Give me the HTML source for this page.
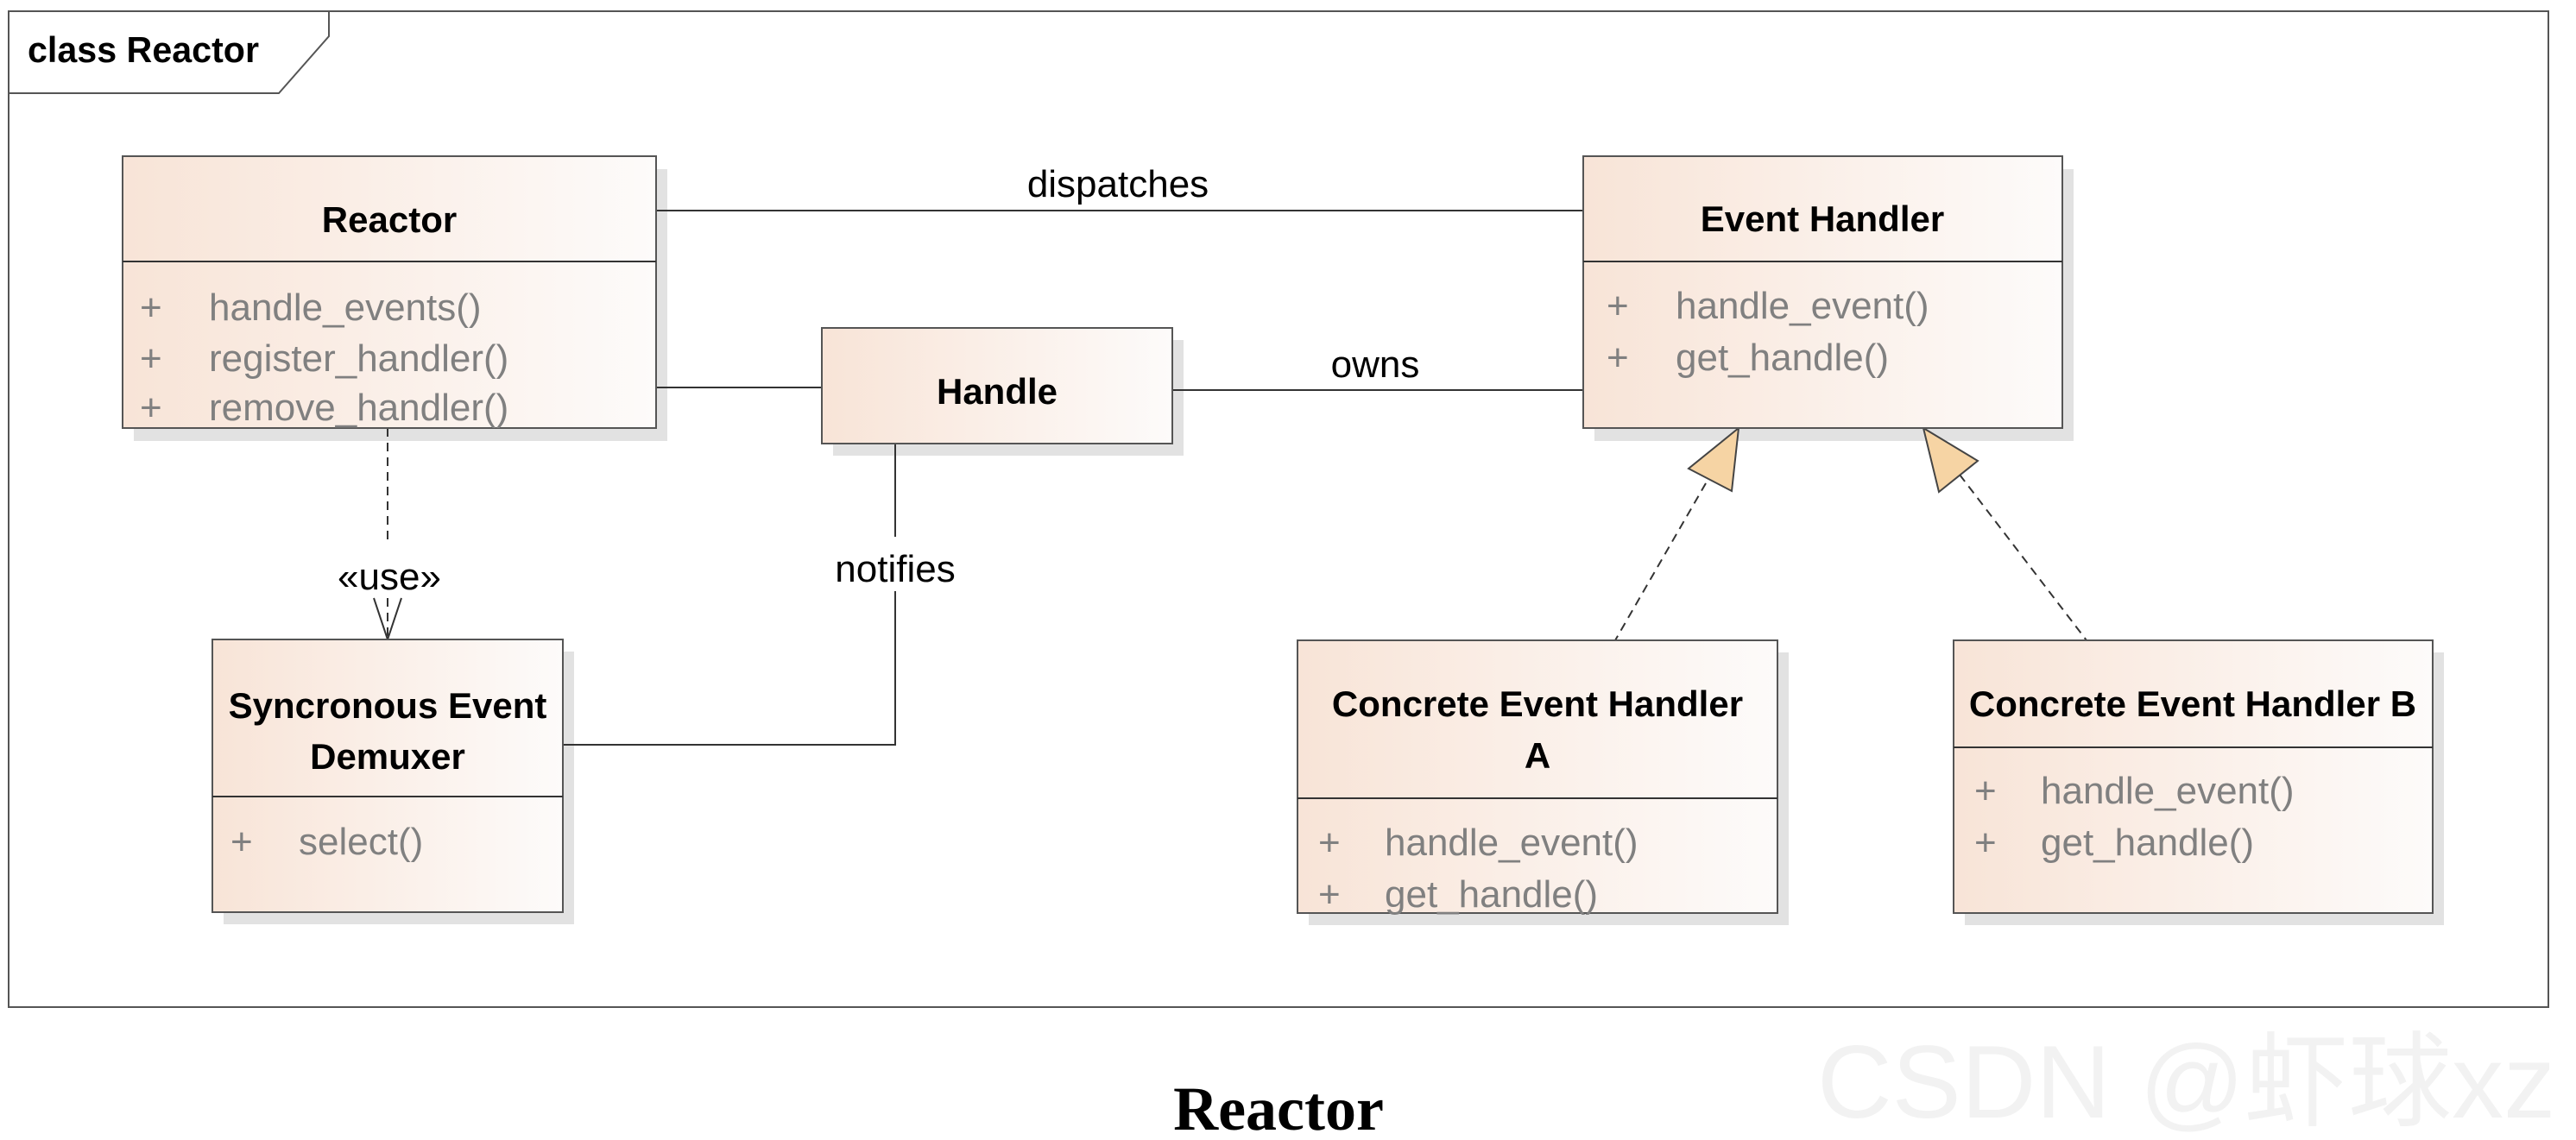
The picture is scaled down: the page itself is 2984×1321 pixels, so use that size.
<!DOCTYPE html>
<html><head><meta charset="utf-8"><style>
html,body{margin:0;padding:0;background:#fff}
svg{display:block}
.t{font-family:"Liberation Sans",sans-serif;font-weight:bold;font-size:42px;fill:#000;text-anchor:middle}
.a{font-family:"Liberation Sans",sans-serif;font-size:44px;fill:#808080}
.l{font-family:"Liberation Sans",sans-serif;font-size:44px;fill:#000;text-anchor:middle}
</style></head><body>
<svg width="2984" height="1321" viewBox="0 0 2984 1321" xmlns="http://www.w3.org/2000/svg">
<defs>
<linearGradient id="g" x1="0" x2="1" y1="0" y2="0">
<stop offset="0" stop-color="#f8e4d7"/><stop offset="1" stop-color="#fdfbfa"/>
</linearGradient>
</defs>
<rect x="10" y="13" width="2942" height="1154" fill="#fff" stroke="#555" stroke-width="2"/>
<polygon points="10,13 381,13 381,42 323,108 10,108" fill="#fff" stroke="#555" stroke-width="2"/>
<text x="32" y="72" font-family="Liberation Sans,sans-serif" font-weight="bold" font-size="42" textLength="268" lengthAdjust="spacingAndGlyphs">class Reactor</text>

<g fill="#e2e2e2">
<rect x="155" y="196" width="618" height="315"/>
<rect x="965" y="394" width="406" height="134"/>
<rect x="1847" y="196" width="555" height="315"/>
<rect x="259" y="755" width="406" height="316"/>
<rect x="1516" y="756" width="556" height="316"/>
<rect x="2276" y="756" width="555" height="316"/>
</g>

<g stroke="#333" stroke-width="2" fill="none">
<line x1="760" y1="244" x2="1834" y2="244"/>
<line x1="760" y1="449" x2="952" y2="449"/>
<line x1="1358" y1="452" x2="1834" y2="452"/>
<polyline points="1037,514 1037,622"/>
<polyline points="1037,685 1037,863 652,863"/>
<line x1="449" y1="496" x2="449" y2="630" stroke-dasharray="10,7"/>
<line x1="449" y1="693" x2="449" y2="741" stroke-dasharray="10,7"/>
<polyline points="433,693 449,741 465,693"/>
<line x1="1976" y1="560" x2="1871" y2="742" stroke-dasharray="10,7"/>
<line x1="2270" y1="550" x2="2417" y2="742" stroke-dasharray="10,7"/>
</g>
<polygon points="2014,496 1956,543 2006,569" fill="#f6d4a4" stroke="#444" stroke-width="2"/>
<polygon points="2228,496 2291,534 2246,570" fill="#f6d4a4" stroke="#444" stroke-width="2"/>

<text class="l" x="1295" y="228">dispatches</text>
<text class="l" x="1593" y="437">owns</text>
<text class="l" x="1037" y="674">notifies</text>
<text class="l" x="451" y="683">«use»</text>

<g stroke="#555" stroke-width="2" fill="url(#g)">
<rect x="142" y="181" width="618" height="315"/>
<rect x="952" y="380" width="406" height="134"/>
<rect x="1834" y="181" width="555" height="315"/>
<rect x="246" y="741" width="406" height="316"/>
<rect x="1503" y="742" width="556" height="316"/>
<rect x="2263" y="742" width="555" height="316"/>
</g>
<g stroke="#333" stroke-width="2">
<line x1="142" y1="303" x2="760" y2="303"/>
<line x1="1834" y1="303" x2="2389" y2="303"/>
<line x1="246" y1="923" x2="652" y2="923"/>
<line x1="1503" y1="925" x2="2059" y2="925"/>
<line x1="2263" y1="866" x2="2818" y2="866"/>
</g>

<text class="t" x="451" y="269">Reactor</text>
<text class="a" x="162" y="371">+</text><text class="a" x="242" y="371">handle_events()</text>
<text class="a" x="162" y="430">+</text><text class="a" x="242" y="430">register_handler()</text>
<text class="a" x="162" y="487">+</text><text class="a" x="242" y="487">remove_handler()</text>

<text class="t" x="1155" y="468">Handle</text>

<text class="t" x="2111" y="268">Event Handler</text>
<text class="a" x="1861" y="369">+</text><text class="a" x="1941" y="369">handle_event()</text>
<text class="a" x="1861" y="429">+</text><text class="a" x="1941" y="429">get_handle()</text>

<text class="t" x="449" y="832">Syncronous Event</text>
<text class="t" x="449" y="891">Demuxer</text>
<text class="a" x="267" y="990">+</text><text class="a" x="346" y="990">select()</text>

<text class="t" x="1781" y="830">Concrete Event Handler</text>
<text class="t" x="1781" y="890">A</text>
<text class="a" x="1527" y="991">+</text><text class="a" x="1604" y="991">handle_event()</text>
<text class="a" x="1527" y="1051">+</text><text class="a" x="1604" y="1051">get_handle()</text>

<text class="t" x="2540" y="830">Concrete Event Handler B</text>
<text class="a" x="2287" y="931">+</text><text class="a" x="2364" y="931">handle_event()</text>
<text class="a" x="2287" y="991">+</text><text class="a" x="2364" y="991">get_handle()</text>

<text x="1481" y="1309" text-anchor="middle" font-family="Liberation Serif,serif" font-weight="bold" font-size="72">Reactor</text>
<text x="2105" y="1295" font-family="Liberation Sans,'Noto Sans CJK SC',sans-serif" font-size="120" fill="#f2f2f2">CSDN @虾球xz</text>
</svg>
</body></html>
